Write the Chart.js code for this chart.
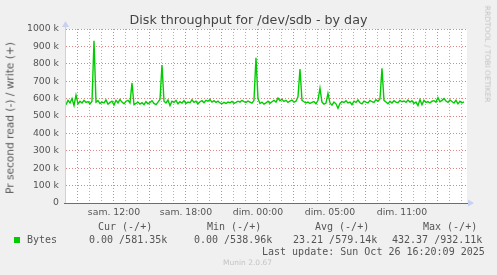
<!DOCTYPE html>
<html>
<head>
<meta charset="utf-8">
<script src="https://cdn.jsdelivr.net/npm/chart.js@4.4.1/dist/chart.umd.min.js"></script>
<style>
  html, body { margin: 0; padding: 0; background: #f0f0f0; }
  #wrap { position: relative; width: 497px; height: 275px; overflow: hidden; background: #f0f0f0; }
  #wrap canvas { position: absolute; left: 0; top: 0; }
  .t { position: absolute; white-space: pre; color: #555; font-family: 'DejaVu Sans', sans-serif; }
  .mono { font-family: 'DejaVu Sans Mono', monospace; font-size: 10px; line-height: 10px; }
</style>
</head>
<body>
<div id="wrap">
  <canvas id="chart" width="497" height="275"></canvas>

  <div class="t" style="left:0;width:497px;text-align:center;top:13px;font-size:12.7px;line-height:13px;color:#444;">Disk throughput for /dev/sdb - by day</div>
  <div class="t" style="left:10px;top:118px;font-size:10.6px;line-height:11px;transform:translate(-50%,-50%) rotate(-90deg);">Pr second read (-) / write (+)</div>
  <div class="t" style="left:487px;top:54px;font-size:7.5px;line-height:8px;color:#c4c4c4;transform:translate(-50%,-50%) rotate(90deg);">RRDTOOL / TOBI OETIKER</div>

  <div class="t mono" style="left:98px;top:222px;">Cur (-/+)</div>
  <div class="t mono" style="left:207px;top:222px;">Min (-/+)</div>
  <div class="t mono" style="left:315px;top:222px;">Avg (-/+)</div>
  <div class="t mono" style="left:423px;top:222px;">Max (-/+)</div>

  <div style="position:absolute;left:14px;top:237px;width:6px;height:6px;background:#00cc00;"></div>
  <div class="t mono" style="left:27px;top:235px;">Bytes</div>
  <div class="t mono" style="left:89px;top:235px;">0.00 /581.35k</div>
  <div class="t mono" style="left:194px;top:235px;">0.00 /538.96k</div>
  <div class="t mono" style="left:293px;top:235px;">23.21 /579.14k</div>
  <div class="t mono" style="left:392px;top:235px;">432.37 /932.11k</div>

  <div class="t mono" style="left:262px;top:247px;">Last update: Sun Oct 26 16:20:09 2025</div>
  <div class="t" style="left:223px;top:259px;font-size:7.5px;line-height:8px;color:#c4c4c4;">Munin 2.0.67</div>
</div>

<script>
// write throughput in k bytes/s, one sample every 10 minutes
const writeK = [
  565, 590, 575, 600, 560, 620, 570, 585, 575, 590,
  578, 583, 570, 585, 932, 580, 588, 572, 580, 575,
  592, 568, 578, 585, 563, 590, 575, 595, 580, 570,
  585, 590, 575, 690, 565, 572, 580, 568, 576, 565,
  582, 570, 578, 588, 572, 565, 580, 595, 793, 585,
  575, 592, 560, 585, 578, 590, 570, 583, 575, 588,
  572, 580, 576, 593, 578, 585, 570, 582, 588, 576,
  590, 585, 595, 580, 588, 578, 585, 575, 570, 578,
  572, 580, 576, 584, 572, 578, 585, 580, 590, 583,
  578, 586, 580, 574, 590, 835, 600, 572, 580, 568,
  575, 585, 573, 582, 590, 580, 603, 588, 596, 584,
  590, 578, 586, 592, 580, 585, 610, 770, 590, 582,
  575, 580, 572, 578, 583, 570, 590, 659, 580, 568,
  574, 630, 575, 562, 580, 570, 545, 572, 583, 578,
  588, 575, 580, 565, 585, 578, 592, 576, 570, 586,
  580, 575, 590, 582, 578, 594, 585, 598, 774, 590,
  580, 570, 585, 575, 588, 580, 576, 590, 582, 586,
  578, 592, 580, 588, 572, 580, 560, 595, 565, 590,
  578, 583, 575, 585, 588, 580, 605, 582, 590, 600,
  586, 578, 592, 583, 575, 590, 570, 585, 575, 581
];
const sampleHours = 1 / 6;
const spanHours = 33.42;

// hour offsets (from window start) that carry a label
const xLabels = {
  4: 'sam. 12:00',
  10: 'sam. 18:00',
  16: 'dim. 00:00',
  22: 'dim. 05:00',
  28: 'dim. 11:00'
};

const yMax = 1000000;
const yStep = 50000;

const points = writeK.map((v, i) => ({ x: i * sampleHours, y: v * 1000 }));

const redGrid = 'rgba(220, 110, 110, 0.85)';
const greyGrid = 'rgba(165, 165, 165, 0.85)';

const munin = {
  id: 'munin',
  beforeDraw(chart) {
    const { ctx, chartArea: a } = chart;
    ctx.save();
    ctx.fillStyle = '#ffffff';
    ctx.fillRect(a.left, a.top, a.right - a.left, a.bottom - a.top);
    ctx.restore();
  },
  afterDraw(chart) {
    const { ctx, chartArea: a } = chart;
    ctx.save();
    // y axis line + arrow
    ctx.strokeStyle = '#c8d0f4';
    ctx.fillStyle = '#c8d0f4';
    ctx.lineWidth = 1;
    ctx.beginPath();
    ctx.moveTo(a.left - 0.5, a.bottom);
    ctx.lineTo(a.left - 0.5, a.top - 4);
    ctx.stroke();
    ctx.beginPath();
    ctx.moveTo(a.left - 4, a.top - 2);
    ctx.lineTo(a.left + 3, a.top - 2);
    ctx.lineTo(a.left - 0.5, a.top - 8);
    ctx.closePath();
    ctx.fill();
    // x axis arrow
    ctx.beginPath();
    ctx.moveTo(a.right + 1, a.bottom - 3.5);
    ctx.lineTo(a.right + 1, a.bottom + 3.5);
    ctx.lineTo(a.right + 7, a.bottom);
    ctx.closePath();
    ctx.fill();
    // x axis line
    ctx.strokeStyle = '#6b6b80';
    ctx.beginPath();
    ctx.moveTo(a.left - 2, a.bottom + 0.5);
    ctx.lineTo(a.right + 1, a.bottom + 0.5);
    ctx.stroke();
    ctx.restore();
  }
};

Chart.defaults.font.family = "'DejaVu Sans', sans-serif";
Chart.defaults.color = '#555';

new Chart(document.getElementById('chart'), {
  type: 'line',
  data: {
    datasets: [{
      label: 'Bytes',
      data: points,
      borderColor: '#00cc00',
      borderWidth: 1.4,
      pointRadius: 0,
      tension: 0,
      fill: false
    }]
  },
  options: {
    responsive: false,
    animation: false,
    layout: { padding: { top: 29, right: 30, left: 0, bottom: 0 } },
    plugins: { legend: { display: false }, tooltip: { enabled: false } },
    scales: {
      x: {
        type: 'linear',
        min: 0,
        max: spanHours,
        afterBuildTicks(scale) {
          const t = [];
          for (let h = 1; h <= 33; h++) t.push({ value: h });
          scale.ticks = t;
        },
        afterFit(scale) { scale.height = 72; },
        border: { display: false, dash: [1, 2] },
        grid: {
          color: (c) => ((c.tick && (c.tick.value - 1) % 3 === 0) ? redGrid : greyGrid),
          tickColor: (c) => ((c.tick && (c.tick.value - 1) % 3 === 0) ? redGrid : 'rgba(0,0,0,0)'),
          tickLength: 3,
          tickBorderDash: [1, 2],
          lineWidth: 1
        },
        ticks: {
          autoSkip: false,
          maxRotation: 0,
          padding: 1,
          font: { size: 9.3 },
          callback: (v) => xLabels[v] || ''
        }
      },
      y: {
        min: 0,
        max: yMax,
        afterBuildTicks(scale) {
          const t = [];
          for (let v = 0; v <= yMax; v += yStep) t.push({ value: v });
          scale.ticks = t;
        },
        afterFit(scale) { scale.width = 66; },
        border: { display: false, dash: [1, 2] },
        grid: {
          color: (c) => (c.tick && c.tick.value === 0 ? 'rgba(0,0,0,0)' : (c.tick && c.tick.value % 100000 === 0 ? redGrid : greyGrid)),
          drawTicks: false
        },
        ticks: {
          padding: 7,
          font: { size: 9.3 },
          callback: (v) => (v === 0 ? '0' : (v % 100000 === 0 ? (v / 1000) + ' k' : ''))
        }
      }
    }
  },
  plugins: [munin]
});
</script>
</body>
</html>
